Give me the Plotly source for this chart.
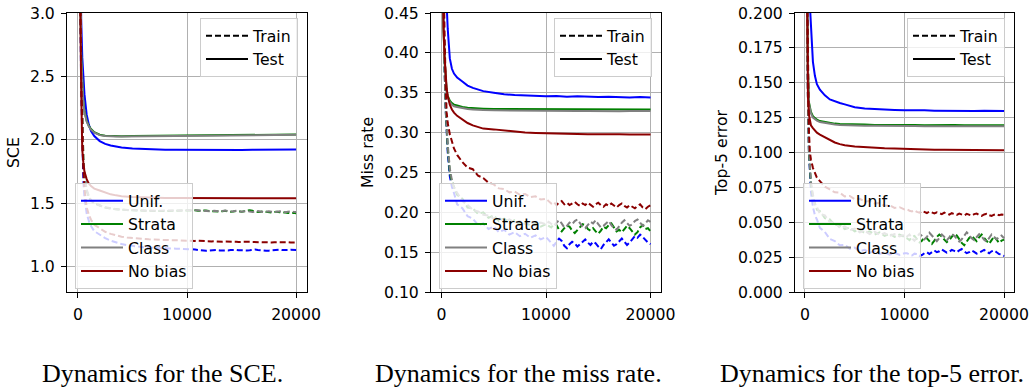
import plotly.graph_objects as go

# ---------------- data ----------------
x_test = [0, 100, 200, 300, 400, 500, 600, 800, 1000, 1200, 1500, 2000, 2500, 3000, 3500, 4000,
          5000, 6000, 7000, 8000, 9000, 10000, 11000, 12000, 13000, 14000, 15000, 16000, 17000,
          18000, 19000, 20000]
x_train = [0, 100, 200, 300, 400, 500, 600, 800, 1000, 1200, 1500, 2000, 2500, 3000, 3500, 4000,
           4500, 5000, 5500, 6000, 6500, 7000, 7500, 8000, 8500, 9000, 9500, 10000,
           10250, 10500, 10750, 11000, 11250, 11500, 11750, 12000, 12250, 12500,
           12750, 13000, 13250, 13500, 13750, 14000, 14250, 14500, 14750, 15000,
           15250, 15500, 15750, 16000, 16250, 16500, 16750, 17000, 17250, 17500,
           17750, 18000, 18250, 18500, 18750, 19000, 19250, 19500, 19750, 20000]

methods = ["Unif.", "Strata", "Class", "No bias"]

# ---- SCE ----
sce_test_unif = [7.0, 5.6, 3.8, 2.95, 2.65, 2.47, 2.36, 2.2, 2.12, 2.07, 2.03, 1.99, 1.968, 1.955,
                 1.946, 1.94, 1.932, 1.927, 1.924, 1.922, 1.921, 1.92, 1.92, 1.919, 1.92, 1.921,
                 1.92, 1.921, 1.922, 1.921, 1.922, 1.923]
sce_test_strata = [7.0, 5.0, 3.5, 2.65, 2.42, 2.3, 2.23, 2.15, 2.11, 2.085, 2.06, 2.04, 2.033, 2.03,
                   2.029, 2.029, 2.03, 2.031, 2.032, 2.033, 2.034, 2.035, 2.036, 2.035, 2.037, 2.038,
                   2.037, 2.039, 2.04, 2.039, 2.041, 2.042]
sce_test_class = [7.0, 5.0, 3.5, 2.64, 2.41, 2.29, 2.22, 2.145, 2.105, 2.08, 2.056, 2.037, 2.03, 2.027,
                  2.027, 2.027, 2.028, 2.029, 2.03, 2.031, 2.032, 2.033, 2.034, 2.034, 2.035, 2.036,
                  2.036, 2.037, 2.038, 2.038, 2.039, 2.04]
sce_test_nobias = [7.0, 4.5, 3.2, 2.4, 1.92, 1.82, 1.75, 1.69, 1.655, 1.635, 1.615, 1.6, 1.585, 1.57,
                   1.562, 1.556, 1.55, 1.546, 1.544, 1.542, 1.541, 1.54, 1.54, 1.539, 1.54, 1.54,
                   1.539, 1.54, 1.54, 1.539, 1.54, 1.54]

sce_train_unif = [6.5, 4.6, 3.3, 2.4, 1.9, 1.68, 1.55, 1.42, 1.36, 1.32, 1.28, 1.25, 1.225, 1.205,
                  1.19, 1.178, 1.17, 1.163, 1.158, 1.153, 1.15, 1.147, 1.145, 1.144, 1.143, 1.142,
                  1.141, 1.14,
                  1.140, 1.138, 1.135, 1.131, 1.128, 1.126, 1.125, 1.127, 1.130, 1.133,
                  1.131, 1.128, 1.127, 1.126, 1.128, 1.131, 1.134, 1.132, 1.129, 1.127,
                  1.126, 1.128, 1.130, 1.133, 1.135, 1.132, 1.129, 1.127, 1.125, 1.126,
                  1.129, 1.133, 1.136, 1.134, 1.131, 1.130, 1.132, 1.134, 1.133, 1.132]
sce_train_strata = [6.5, 4.8, 3.5, 2.6, 2.1, 1.85, 1.72, 1.6, 1.55, 1.52, 1.5, 1.48, 1.466, 1.457,
                    1.452, 1.449, 1.446, 1.444, 1.442, 1.441, 1.44, 1.439, 1.438, 1.439, 1.44, 1.441,
                    1.442, 1.443,
                    1.445, 1.447, 1.444, 1.441, 1.443, 1.446, 1.442, 1.438, 1.436, 1.44,
                    1.438, 1.434, 1.437, 1.44, 1.436, 1.432, 1.435, 1.439, 1.436, 1.432,
                    1.437, 1.441, 1.445, 1.44, 1.434, 1.43, 1.433, 1.437, 1.432, 1.428,
                    1.426, 1.43, 1.433, 1.429, 1.425, 1.427, 1.423, 1.426, 1.424, 1.42]
sce_train_class = [6.5, 4.8, 3.5, 2.6, 2.1, 1.86, 1.73, 1.61, 1.555, 1.525, 1.503, 1.482, 1.468,
                   1.459, 1.453, 1.45, 1.447, 1.445, 1.443, 1.442, 1.441, 1.44, 1.44, 1.441, 1.442,
                   1.443, 1.444, 1.445,
                   1.447, 1.444, 1.448, 1.445, 1.441, 1.439, 1.443, 1.44, 1.437, 1.441,
                   1.438, 1.435, 1.439, 1.442, 1.438, 1.434, 1.436, 1.44, 1.437, 1.433,
                   1.436, 1.438, 1.434, 1.431, 1.435, 1.438, 1.435, 1.431, 1.433, 1.436,
                   1.433, 1.43, 1.433, 1.436, 1.432, 1.429, 1.432, 1.435, 1.432, 1.431]
sce_train_nobias = [6.5, 4.7, 3.4, 2.5, 2.0, 1.76, 1.62, 1.47, 1.41, 1.37, 1.33, 1.3, 1.275, 1.258,
                    1.245, 1.236, 1.23, 1.225, 1.221, 1.218, 1.215, 1.213, 1.211, 1.21, 1.209,
                    1.208, 1.207, 1.206,
                    1.205, 1.204, 1.203, 1.204, 1.202, 1.201, 1.202, 1.2, 1.199, 1.2,
                    1.198, 1.199, 1.197, 1.198, 1.196, 1.197, 1.198, 1.196, 1.195, 1.196,
                    1.194, 1.195, 1.196, 1.194, 1.193, 1.194, 1.192, 1.193, 1.194, 1.192,
                    1.191, 1.192, 1.193, 1.191, 1.19, 1.191, 1.192, 1.19, 1.191, 1.19]

# ---- Miss rate ----
miss_test_unif = [0.7, 0.62, 0.56, 0.52, 0.49, 0.46, 0.43, 0.393, 0.38, 0.374, 0.369, 0.364, 0.359,
                  0.356, 0.354, 0.352, 0.35, 0.348, 0.347, 0.3465, 0.346, 0.3455, 0.346, 0.345,
                  0.3455, 0.345, 0.3445, 0.345, 0.3445, 0.344, 0.3445, 0.344]
miss_test_strata = [0.6, 0.5, 0.43, 0.39, 0.365, 0.352, 0.346, 0.34, 0.337, 0.335, 0.334, 0.332,
                    0.331, 0.3305, 0.33, 0.33, 0.3295, 0.3295, 0.329, 0.329, 0.3292, 0.329, 0.3288,
                    0.329, 0.3287, 0.3289, 0.3286, 0.3288, 0.3287, 0.3289, 0.3286, 0.3288]
miss_test_class = [0.6, 0.5, 0.43, 0.388, 0.363, 0.35, 0.344, 0.338, 0.335, 0.333, 0.332, 0.3305,
                   0.3295, 0.329, 0.3285, 0.3282, 0.328, 0.3278, 0.3275, 0.3273, 0.3275, 0.3272,
                   0.327, 0.3273, 0.327, 0.3272, 0.3269, 0.3271, 0.3268, 0.327, 0.3268, 0.327]
miss_test_nobias = [0.6, 0.5, 0.43, 0.395, 0.37, 0.355, 0.346, 0.335, 0.329, 0.325, 0.321, 0.316,
                    0.312, 0.309, 0.307, 0.305, 0.304, 0.3025, 0.301, 0.3, 0.2995, 0.299, 0.2988,
                    0.2985, 0.2983, 0.298, 0.2982, 0.2978, 0.298, 0.2976, 0.2978, 0.2975]

miss_train_unif = [0.62, 0.53, 0.45, 0.38, 0.33, 0.298, 0.275, 0.245, 0.232, 0.224, 0.21, 0.205,
                   0.195, 0.192, 0.184, 0.186, 0.179, 0.182, 0.175, 0.178, 0.172, 0.175, 0.17,
                   0.173, 0.168, 0.171, 0.166, 0.169,
                   0.165, 0.161, 0.158, 0.163, 0.167, 0.164, 0.158, 0.155, 0.16, 0.163,
                   0.161, 0.157, 0.16, 0.164, 0.166, 0.162, 0.159, 0.163, 0.161, 0.157,
                   0.154, 0.159, 0.163, 0.166, 0.162, 0.158, 0.16, 0.164, 0.167, 0.163,
                   0.159, 0.162, 0.166, 0.17, 0.168, 0.172, 0.169, 0.165, 0.162, 0.16]
miss_train_strata = [0.62, 0.53, 0.45, 0.38, 0.33, 0.30, 0.28, 0.25, 0.238, 0.232, 0.222, 0.217,
                     0.206, 0.205, 0.198, 0.2, 0.193, 0.196, 0.189, 0.192, 0.187, 0.19, 0.185,
                     0.188, 0.183, 0.186, 0.182, 0.185,
                     0.183, 0.181, 0.185, 0.184, 0.178, 0.176, 0.18, 0.183, 0.182, 0.177,
                     0.174, 0.178, 0.181, 0.185, 0.184, 0.179, 0.177, 0.18, 0.176, 0.173,
                     0.177, 0.182, 0.18, 0.184, 0.186, 0.181, 0.176, 0.178, 0.175, 0.179,
                     0.183, 0.18, 0.176, 0.172, 0.175, 0.181, 0.184, 0.179, 0.18, 0.176]
miss_train_class = [0.62, 0.53, 0.45, 0.385, 0.335, 0.305, 0.285, 0.255, 0.24, 0.231, 0.225,
                    0.214, 0.209, 0.203, 0.201, 0.197, 0.196, 0.192, 0.193, 0.189, 0.191, 0.187,
                    0.189, 0.185, 0.188, 0.184, 0.187, 0.185,
                    0.188, 0.185, 0.183, 0.187, 0.19, 0.186, 0.181, 0.183, 0.187, 0.185,
                    0.189, 0.191, 0.186, 0.182, 0.18, 0.184, 0.188, 0.186, 0.19, 0.185,
                    0.181, 0.183, 0.186, 0.189, 0.184, 0.18, 0.178, 0.183, 0.187, 0.19,
                    0.186, 0.183, 0.185, 0.189, 0.191, 0.187, 0.183, 0.186, 0.19, 0.188]
miss_train_nobias = [0.62, 0.55, 0.48, 0.42, 0.36, 0.325, 0.312, 0.298, 0.288, 0.28, 0.272, 0.263,
                     0.256, 0.254, 0.246, 0.243, 0.237, 0.235, 0.23, 0.229, 0.225, 0.226, 0.222,
                     0.223, 0.219, 0.22, 0.216, 0.217,
                     0.214, 0.211, 0.213, 0.209, 0.212, 0.214, 0.21, 0.212, 0.209, 0.211,
                     0.213, 0.21, 0.208, 0.211, 0.209, 0.212, 0.21, 0.207, 0.21, 0.212,
                     0.209, 0.207, 0.21, 0.208, 0.211, 0.209, 0.206, 0.209, 0.211, 0.208,
                     0.206, 0.209, 0.207, 0.205, 0.208, 0.21, 0.206, 0.204, 0.207, 0.209]

# ---- Top-5 error ----
top5_test_unif = [0.5, 0.4, 0.32, 0.27, 0.235, 0.205, 0.188, 0.165, 0.155, 0.149, 0.145, 0.141,
                  0.138, 0.1365, 0.1355, 0.1345, 0.1325, 0.1315, 0.131, 0.1308, 0.1305, 0.1303,
                  0.1305, 0.1302, 0.13, 0.1298, 0.13, 0.1298, 0.1297, 0.1299, 0.1297, 0.1298]
top5_test_strata = [0.4, 0.3, 0.22, 0.16, 0.136, 0.132, 0.129, 0.126, 0.1245, 0.1235, 0.1225,
                    0.1218, 0.1212, 0.1207, 0.1205, 0.1203, 0.12, 0.12, 0.1198, 0.1199, 0.1197,
                    0.1198, 0.1197, 0.1196, 0.1198, 0.1196, 0.1197, 0.1195, 0.1197, 0.1196,
                    0.1195, 0.1195]
top5_test_class = [0.4, 0.3, 0.22, 0.158, 0.135, 0.131, 0.128, 0.125, 0.1237, 0.1228, 0.1218,
                   0.1211, 0.1205, 0.12, 0.1198, 0.1196, 0.1193, 0.1192, 0.1191, 0.1192, 0.119,
                   0.1191, 0.119, 0.1189, 0.119, 0.1189, 0.119, 0.1188, 0.1189, 0.1188, 0.1189,
                   0.1188]
top5_test_nobias = [0.4, 0.3, 0.21, 0.14, 0.127, 0.122, 0.1195, 0.1175, 0.1155, 0.1142, 0.1128,
                    0.111, 0.1088, 0.1072, 0.106, 0.1052, 0.1043, 0.1037, 0.1033, 0.103, 0.1028,
                    0.1025, 0.1023, 0.1022, 0.102, 0.102, 0.1019, 0.1018, 0.1018, 0.1017, 0.1017,
                    0.1016]

top5_train_unif = [0.35, 0.27, 0.2, 0.14, 0.1, 0.082, 0.072, 0.061, 0.055, 0.052, 0.046, 0.043,
                   0.038, 0.0365, 0.0335, 0.0338, 0.031, 0.0318, 0.0292, 0.0302, 0.0282, 0.0292,
                   0.0273, 0.0285, 0.0268, 0.0282, 0.0266, 0.0278,
                   0.0278, 0.0268, 0.0262, 0.0275, 0.0272, 0.0258, 0.0265, 0.0278, 0.0285, 0.0272,
                   0.0288, 0.0298, 0.0285, 0.0292, 0.0305, 0.0295, 0.0282, 0.0288, 0.0302, 0.0295,
                   0.0285, 0.0298, 0.0308, 0.0292, 0.0278, 0.0285, 0.0298, 0.0288, 0.0275, 0.0282,
                   0.0295, 0.0302, 0.0288, 0.0278, 0.0292, 0.0298, 0.0285, 0.0272, 0.0268, 0.0258]
top5_train_strata = [0.35, 0.27, 0.2, 0.14, 0.1, 0.085, 0.077, 0.068, 0.064, 0.059, 0.058, 0.053,
                     0.052, 0.048, 0.048, 0.045, 0.0462, 0.0435, 0.0448, 0.0422, 0.0435, 0.0412,
                     0.0427, 0.0402, 0.0418, 0.0396, 0.0412, 0.0395,
                     0.0385, 0.0372, 0.0395, 0.0402, 0.0378, 0.0355, 0.0368, 0.0392, 0.0385, 0.0362,
                     0.0345, 0.0368, 0.0395, 0.0412, 0.0398, 0.0375, 0.0358, 0.0372, 0.0395, 0.0418,
                     0.0405, 0.0378, 0.0352, 0.0335, 0.0362, 0.0388, 0.0402, 0.0382, 0.0365, 0.0392,
                     0.0412, 0.0388, 0.0362, 0.0345, 0.0372, 0.0398, 0.0375, 0.0352, 0.0368, 0.0375]
top5_train_class = [0.35, 0.27, 0.2, 0.142, 0.102, 0.087, 0.079, 0.07, 0.063, 0.061, 0.056, 0.055,
                    0.05, 0.05, 0.046, 0.047, 0.0442, 0.0455, 0.0428, 0.044, 0.0415, 0.0432, 0.041,
                    0.0422, 0.0402, 0.0415, 0.0398, 0.041,
                    0.0398, 0.0412, 0.0385, 0.0368, 0.0392, 0.0418, 0.0402, 0.0378, 0.0395, 0.0425,
                    0.0405, 0.0382, 0.0365, 0.0388, 0.0412, 0.0395, 0.0372, 0.0392, 0.0418, 0.0402,
                    0.0385, 0.0362, 0.0378, 0.0405, 0.0428, 0.0408, 0.0385, 0.0372, 0.0395, 0.0415,
                    0.0398, 0.0375, 0.0362, 0.0388, 0.0412, 0.0395, 0.0378, 0.0392, 0.0405, 0.0385]
top5_train_nobias = [0.35, 0.28, 0.22, 0.16, 0.115, 0.1, 0.095, 0.089, 0.085, 0.082, 0.0795,
                     0.0755, 0.0735, 0.0715, 0.0712, 0.0685, 0.0688, 0.0665, 0.0668, 0.0648,
                     0.0652, 0.0635, 0.0638, 0.0618, 0.0622, 0.0603, 0.0608, 0.0592,
                     0.0595, 0.0582, 0.0578, 0.0586, 0.0574, 0.0569, 0.0581, 0.0573, 0.0566, 0.0577,
                     0.0572, 0.0563, 0.0571, 0.0566, 0.0558, 0.0569, 0.0562, 0.0555, 0.0565, 0.056,
                     0.0553, 0.0562, 0.0557, 0.0549, 0.056, 0.0555, 0.0548, 0.0558, 0.0563, 0.0552,
                     0.0546, 0.0556, 0.0561, 0.0551, 0.0545, 0.0554, 0.0559, 0.055, 0.0556, 0.0554]

y_titles = ["SCE", "Miss rate", "Top-5 error"]
captions = ["Dynamics for the SCE.", "Dynamics for the miss rate.", "Dynamics for the top-5 error."]
y_ranges = [[0.8, 3.0], [0.10, 0.45], [0.0, 0.2]]
y_ticks = [[1.0, 1.5, 2.0, 2.5, 3.0],
           [0.10, 0.15, 0.20, 0.25, 0.30, 0.35, 0.40, 0.45],
           [0.0, 0.025, 0.05, 0.075, 0.1, 0.125, 0.15, 0.175, 0.2]]
y_formats = [".1f", ".2f", ".3f"]
x_ticks = [0, 10000, 20000]

panels = [
    ([sce_train_unif, sce_train_strata, sce_train_class, sce_train_nobias],
     [sce_test_unif, sce_test_strata, sce_test_class, sce_test_nobias]),
    ([miss_train_unif, miss_train_strata, miss_train_class, miss_train_nobias],
     [miss_test_unif, miss_test_strata, miss_test_class, miss_test_nobias]),
    ([top5_train_unif, top5_train_strata, top5_train_class, top5_train_nobias],
     [top5_test_unif, top5_test_strata, top5_test_class, top5_test_nobias]),
]

# ---------------- style ----------------
colors = ["#0000ff", "#008000", "#808080", "#8b0000"]
W, H = 1030, 390
px_x = [(67, 307), (431, 661), (795, 1014)]   # window pixel positions
px_y = (13, 292)
cap_cx = [162, 518, 872]
col_leg_left = [75, 439, 803]
tt_leg_right = [298, 652, 1005]
FONT = "DejaVu Sans"
FS = 15.7
LW = 2


def fx(px):
    return px / W


def fy(py):
    return 1 - py / H


fig = go.Figure()
layout = dict(
    width=W, height=H, margin=dict(l=0, r=0, t=0, b=0, autoexpand=False),
    plot_bgcolor="white", paper_bgcolor="white",
    font=dict(family=FONT, size=FS, color="black"),
    hovermode=False,
    annotations=[],
)

for p in range(3):
    ax = "" if p == 0 else str(p + 1)
    xref, yref = "x" + ax, "y" + ax
    leg_col = "legend" if p == 0 else "legend%d" % (2 * p + 1)
    leg_tt = "legend%d" % (2 * p + 2)
    trains, tests = panels[p]
    for m in range(4):
        fig.add_trace(go.Scatter(
            x=x_train, y=trains[m], mode="lines", xaxis=xref, yaxis=yref,
            line=dict(color=colors[m], width=LW, dash="6px,3px"),
            showlegend=False, hoverinfo="skip"))
        fig.add_trace(go.Scatter(
            x=x_test, y=tests[m], mode="lines", xaxis=xref, yaxis=yref,
            line=dict(color=colors[m], width=LW), name=methods[m],
            legend=leg_col, showlegend=True, hoverinfo="skip"))
    # Train/Test legend proxies
    fig.add_trace(go.Scatter(x=[None], y=[None], mode="lines", xaxis=xref, yaxis=yref,
                             line=dict(color="black", width=LW, dash="6px,3px"),
                             name="Train", legend=leg_tt, showlegend=True))
    fig.add_trace(go.Scatter(x=[None], y=[None], mode="lines", xaxis=xref, yaxis=yref,
                             line=dict(color="black", width=LW),
                             name="Test", legend=leg_tt, showlegend=True))

    x0, x1 = px_x[p]
    common = dict(showline=True, mirror=True, linecolor="black", linewidth=1,
                  showgrid=True, gridcolor="#b0b0b0", gridwidth=1, zeroline=False,
                  ticks="outside", ticklen=5, tickcolor="black", tickwidth=1,
                  tickfont=dict(family=FONT, size=FS, color="black"),
                  ticklabelstandoff=3, ticklabeloverflow="allow", automargin=False)
    layout["xaxis" + ax] = dict(
        domain=[fx(x0), fx(x1)], anchor=yref, range=[-1000, 21000],
        tickvals=x_ticks, ticktext=[str(v) for v in x_ticks], **common)
    layout["yaxis" + ax] = dict(
        domain=[fy(px_y[1]), fy(px_y[0])], anchor=xref, range=y_ranges[p],
        tickvals=y_ticks[p], ticktext=[format(v, y_formats[p]) for v in y_ticks[p]],
        title=dict(text=y_titles[p], font=dict(family=FONT, size=FS), standoff=6),
        **common)
    leg_style = dict(bgcolor="rgba(255,255,255,0.8)", bordercolor="#cccccc", borderwidth=1,
                     font=dict(family=FONT, size=FS, color="black"), itemwidth=42,
                     tracegroupgap=0)
    layout[leg_col] = dict(x=fx(col_leg_left[p]), y=fy(183), xanchor="left",
                           yanchor="top", **leg_style)
    layout[leg_tt] = dict(x=fx(tt_leg_right[p]), y=fy(18), xanchor="right",
                          yanchor="top", **leg_style)
    layout["annotations"].append(dict(
        text=captions[p], x=fx(cap_cx[p]), y=fy(373), xref="paper", yref="paper",
        xanchor="center", yanchor="middle", showarrow=False,
        font=dict(family="Liberation Serif", size=26, color="black")))

fig.update_layout(**layout)
# remove the default 8px page margin so the 1030x390 figure fills the window exactly
fig.write_html("out.html", config={"displayModeBar": False},
               post_script="document.body.style.margin='0';")
